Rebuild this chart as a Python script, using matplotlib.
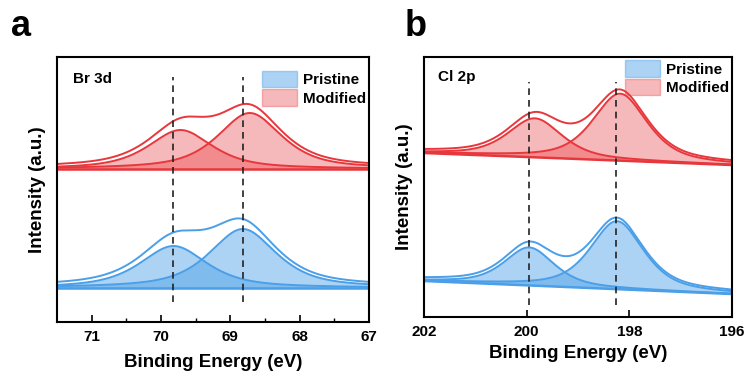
import numpy as np
import matplotlib
matplotlib.use("Agg")
import matplotlib.pyplot as plt
from matplotlib.patches import Patch

plt.rcParams["font.family"] = ["Liberation Sans", "DejaVu Sans"]
plt.rcParams["font.weight"] = "bold"

# ---- data ----
# Br 3d (panel a): fitted doublet components, intensity in arbitrary units
br_centers_pristine = [69.82, 68.82]
br_heights_pristine = [42, 59]
br_fwhm_pristine = [1.15, 1.15]
br_base_pristine = [34, 34]          # baseline at left / right end of the axis

br_centers_modified = [69.72, 68.72]
br_heights_modified = [39, 56]
br_fwhm_modified = [1.1, 1.1]
br_base_modified = [153, 153]

br_xlim = (71.5, 67)
br_ticks = [71, 70, 69, 68, 67]
br_dashes = [69.83, 68.82]

# Cl 2p (panel b)
cl_centers_pristine = [199.95, 198.24]
cl_heights_pristine = [38, 68]
cl_fwhm_pristine = [1.15, 1.22]
cl_base_pristine = [36, 23]

cl_centers_modified = [199.84, 198.18]
cl_heights_modified = [39, 67]
cl_fwhm_modified = [1.25, 1.25]
cl_base_modified = [164, 152]

cl_xlim = (202, 196)
cl_ticks = [202, 200, 198, 196]
cl_dashes = [199.95, 198.26]

blue = "#4a9fe8"
red = "#e8373c"


def pvoigt(x, c, h, w, eta):
    g = np.exp(-4 * np.log(2) * ((x - c) / w) ** 2)
    l = 1 / (1 + 4 * ((x - c) / w) ** 2)
    return h * (eta * l + (1 - eta) * g)


def draw_set(ax, xlim, centers, heights, fwhms, base, color, alpha, eta):
    x = np.linspace(min(xlim), max(xlim), 600)
    # base[0] is at the left end of the (inverted) axis, i.e. at max(xlim)
    b = base[1] + (base[0] - base[1]) * (x - min(xlim)) / (max(xlim) - min(xlim))
    env = b.copy()
    for c, h, w in zip(centers, heights, fwhms):
        comp = pvoigt(x, c, h, w, eta)
        env += comp
        ax.fill_between(x, b, b + comp, color=color, alpha=alpha, lw=0)
        ax.plot(x, b + comp, color=color, lw=1.4)
    ax.plot(x, b, color=color, lw=1.8)
    ax.plot(x, env + 1.2, color=color, lw=1.4)


fig = plt.figure(figsize=(7.49, 3.76), dpi=100)
ax1 = fig.add_axes([0.0761, 0.1436, 0.4166, 0.7048])
ax2 = fig.add_axes([0.566, 0.1569, 0.4113, 0.6915])

draw_set(ax1, br_xlim, br_centers_pristine, br_heights_pristine, br_fwhm_pristine,
         br_base_pristine, blue, 0.45, 0.7)
draw_set(ax1, br_xlim, br_centers_modified, br_heights_modified, br_fwhm_modified,
         br_base_modified, red, 0.35, 0.7)
draw_set(ax2, cl_xlim, cl_centers_pristine, cl_heights_pristine, cl_fwhm_pristine,
         cl_base_pristine, blue, 0.45, 0.6)
draw_set(ax2, cl_xlim, cl_centers_modified, cl_heights_modified, cl_fwhm_modified,
         cl_base_modified, red, 0.35, 0.6)

for xd in br_dashes:
    ax1.plot([xd, xd], [20, 245], color="#222222", lw=1.2, ls=(0, (4, 3)))
for xd in cl_dashes:
    ax2.plot([xd, xd], [12, 235], color="#222222", lw=1.2, ls=(0, (4, 3)))

ax1.set_xlim(*br_xlim)
ax1.set_ylim(0, 265)
ax1.set_xticks(br_ticks)
ax1.set_xticks(np.arange(67.5, 71.5, 1.0), minor=True)
ax2.set_xlim(*cl_xlim)
ax2.set_ylim(0, 260)
ax2.set_xticks(cl_ticks)

panels = [(ax1, "Br 3d", (0.051, 0.917), (1.0, 0.96), 7),
          (ax2, "Cl 2p", (0.045, 0.923), (1.0, 1.0), 4)]
for ax, lab, tpos, lpos, xpad in panels:
    ax.set_yticks([])
    ax.tick_params(axis="x", direction="in", length=5, width=1.2, labelsize=11, pad=6)
    ax.tick_params(axis="x", which="minor", direction="in", length=3, width=1.0)
    for s in ax.spines.values():
        s.set_linewidth(1.5)
    ax.set_xlabel("Binding Energy (eV)", fontsize=13.5, fontweight="bold", labelpad=xpad)
    ax.set_ylabel("Intensity (a.u.)", fontsize=13.5, fontweight="bold", labelpad=8)
    ax.text(tpos[0], tpos[1], lab, transform=ax.transAxes, fontsize=11,
            fontweight="bold", va="center")
    handles = [Patch(facecolor=blue, alpha=0.45, edgecolor=blue, label="Pristine"),
               Patch(facecolor=red, alpha=0.35, edgecolor=red, label="Modified")]
    ax.legend(handles=handles, loc="upper right", bbox_to_anchor=lpos, frameon=False,
              fontsize=11, handlelength=2.3, handleheight=1.3, handletextpad=0.4,
              labelspacing=0.12, borderaxespad=0.1, borderpad=0.1)

fig.text(0.015, 0.93, "a", fontsize=26, fontweight="bold", va="center")
fig.text(0.54, 0.93, "b", fontsize=26, fontweight="bold", va="center")

fig.savefig("out.png", dpi=100)
